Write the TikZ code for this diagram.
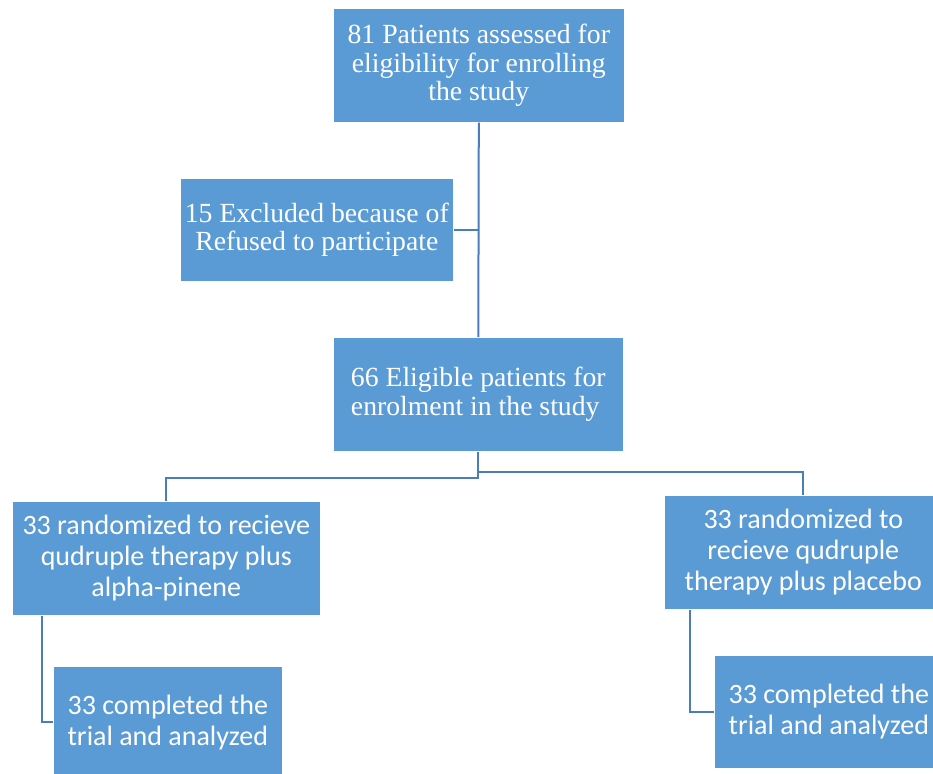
\documentclass[tikz,border=0pt]{standalone}
\usepackage{fontspec}
\newfontfamily\timesfont{Liberation Serif}
\newfontfamily\calibfont{Carlito}
\definecolor{boxblue}{HTML}{5B9BD5}
\definecolor{lineblue}{HTML}{4A7EBB}
\begin{document}
\begin{tikzpicture}[x=1pt,y=-1pt,
  box/.style={rectangle, fill=boxblue, draw=white, line width=0.6pt, text=white, inner sep=0pt, anchor=north west},
  serifbox/.style={box, font=\timesfont\fontsize{27.7}{28.5}\selectfont},
  sansbox/.style={box, font=\calibfont\fontsize{28}{31}\selectfont},
  conn/.style={draw=lineblue, line width=2pt}]
\useasboundingbox (0,0) rectangle (933,773);
\clip (0,0) rectangle (933,773);
\fill[white] (0,0) rectangle (933,773);
\node[serifbox, minimum width=291pt, minimum height=114pt, align=center] (top) at (333,8)
  {81 Patients assessed for\\eligibility for enrolling\\the study};
\node[serifbox, minimum width=273pt, minimum height=103pt, align=center] (excl) at (180,178)
  {15 Excluded because of\\Refused to participate};
\node[serifbox, minimum width=290pt, minimum height=114pt, align=left] (elig) at (333,337)
  {66 Eligible patients for\\enrolment in the study};
\node[sansbox, minimum width=308pt, minimum height=114pt, align=center] (lrand) at (12,501)
  {33 randomized to recieve\\qudruple therapy plus\\alpha-pinene};
\node[sansbox, minimum width=278pt, minimum height=114pt, align=center] (rrand) at (664,495)
  {33 randomized to\\recieve qudruple\\therapy plus placebo};
\node[sansbox, minimum width=229pt, minimum height=112pt, align=center] (lcomp) at (53,666)
  {33 completed the\\trial and analyzed};
\node[sansbox, minimum width=229pt, minimum height=113pt, align=center] (rcomp) at (714,655)
  {33 completed the\\trial and analyzed};
\draw[conn] (top.south) -- (elig.north);
\draw[conn] (excl.east) -- (excl.east -| top.south);
\draw[conn] (elig.south) -- ++(0,26) -| (lrand.north);
\draw[conn] (elig.south) -- ++(0,20) -| (rrand.north);
\draw[conn] ([xshift=30pt]lrand.south west) |- (lcomp.west);
\draw[conn] ([xshift=26pt]rrand.south west) |- (rcomp.west);
\end{tikzpicture}
\end{document}
